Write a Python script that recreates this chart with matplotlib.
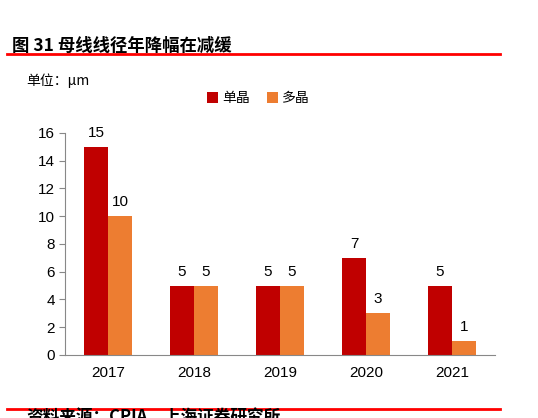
import matplotlib.pyplot as plt
import numpy as np

plt.rcParams['font.family'] = ['Noto Sans CJK SC', 'DejaVu Sans']

years = ['2017', '2018', '2019', '2020', '2021']
mono = [15, 5, 5, 7, 5]
multi = [10, 5, 5, 3, 1]

fig = plt.figure(figsize=(5.38, 4.18), dpi=100)
ax = fig.add_axes([0.121, 0.151, 0.799, 0.531])
x = np.arange(len(years))
w = 0.28
b1 = ax.bar(x - w/2, mono, w, color='#C00000', label='单晶')
b2 = ax.bar(x + w/2, multi, w, color='#ED7D31', label='多晶')
for bars in (b1, b2):
    for r in bars:
        ax.text(r.get_x() + r.get_width()/2, r.get_height() + 0.5, str(int(r.get_height())),
                ha='center', va='bottom', fontsize=11, family='Liberation Sans')
ax.set_xlim(-0.5, 4.5)
ax.set_ylim(0, 16)
ax.set_yticks(range(0, 17, 2))
ax.set_xticks(x)
ax.set_xticklabels(years)
for lab in ax.get_xticklabels() + ax.get_yticklabels():
    lab.set_family('Liberation Sans')
    lab.set_fontsize(11)
for s in ['top', 'right']:
    ax.spines[s].set_visible(False)
ax.spines['left'].set_color('#888888')
ax.spines['bottom'].set_color('#888888')
ax.tick_params(axis='x', length=0, pad=8)
ax.tick_params(axis='y', length=4, color='#888888')
ax.legend(loc='upper center', bbox_to_anchor=(0.45, 1.245), ncol=2, frameon=False,
          fontsize=10, handlelength=0.8, handleheight=0.8, columnspacing=1.2, handletextpad=0.3)

fig.text(0.022, 0.89, '图 31 母线线径年降幅在减缓', fontsize=12.5, fontweight='bold', va='center')
fig.add_artist(plt.Line2D([0.013, 0.93], [0.871, 0.871], color='red', lw=2))
fig.text(0.048, 0.808, '单位：μm', fontsize=10, va='center')
fig.add_artist(plt.Line2D([0.013, 0.93], [0.022, 0.022], color='red', lw=2))
fig.text(0.05, 0.0, '资料来源：CPIA，上海证券研究所', fontsize=12, fontweight='bold', va='center')
fig.savefig('out.png', dpi=100)
